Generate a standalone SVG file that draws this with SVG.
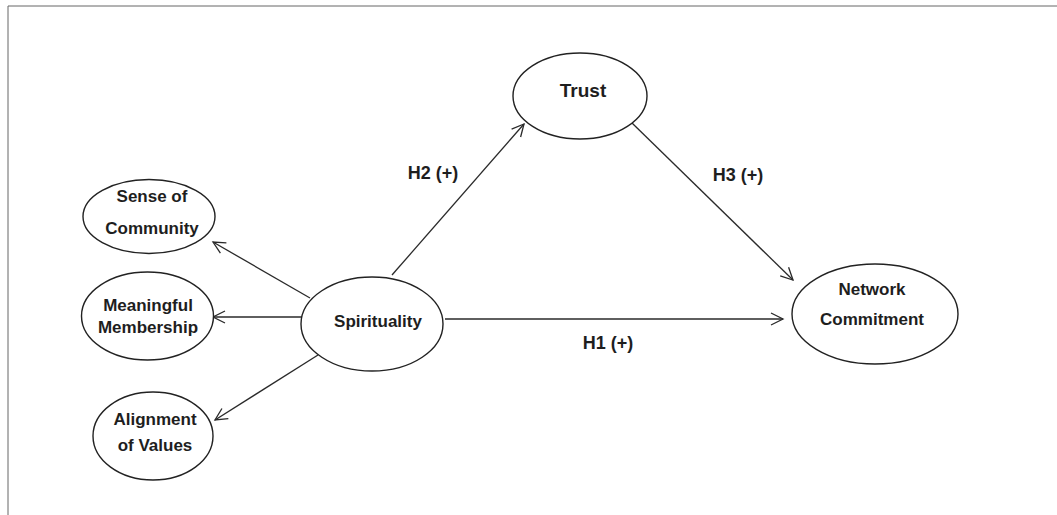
<svg xmlns="http://www.w3.org/2000/svg" width="1057" height="515" viewBox="0 0 1057 515">
<style>
.node ellipse{fill:#fff;stroke:#222;stroke-width:1.4}
text{font-family:"Liberation Sans",Arial,sans-serif;font-weight:bold;font-size:17px;fill:#1e1e1e;text-anchor:middle}
.lbl{font-size:18px}
.big{font-size:19px}
.conn line{stroke:#2a2a2a;stroke-width:1.3;marker-end:url(#arr)}
</style>
<defs>
<marker id="arr" markerUnits="userSpaceOnUse" markerWidth="16" markerHeight="16" refX="13" refY="7" orient="auto">
<path d="M1,1 L13,7 L1,13" fill="none" stroke="#2a2a2a" stroke-width="1.3"/>
</marker>
</defs>
<rect width="1057" height="515" fill="#fff"/>
<path d="M8,515 V6 H1057" fill="none" stroke="#666" stroke-width="1"/>
<g class="conn">
<line x1="392" y1="275" x2="524" y2="124"/>
<line x1="632" y1="123" x2="793" y2="280"/>
<line x1="445" y1="319" x2="783" y2="319"/>
<line x1="310" y1="298" x2="213" y2="242"/>
<line x1="302" y1="317" x2="213" y2="317"/>
<line x1="318" y1="355" x2="215" y2="420"/>
<text class="lbl" x="433" y="179">H2 (+)</text>
<text class="lbl" x="738" y="181">H3 (+)</text>
<text class="lbl" x="608" y="349">H1 (+)</text>
</g>
<g id="trust" class="node"><ellipse cx="580" cy="96" rx="67" ry="43"/><text class="big" x="583" y="97">Trust</text></g>
<g id="network" class="node"><ellipse cx="875" cy="314" rx="83" ry="50"/><text x="872" y="295">Network</text><text x="872" y="325">Commitment</text></g>
<g id="spirituality" class="node"><ellipse cx="372" cy="324" rx="71" ry="47"/><text x="378" y="327">Spirituality</text></g>
<g id="sense" class="node"><ellipse cx="149" cy="216.5" rx="66" ry="37"/><text x="152" y="202">Sense of</text><text x="152" y="234">Community</text></g>
<g id="meaningful" class="node"><ellipse cx="147.5" cy="316" rx="66" ry="44"/><text x="148" y="311">Meaningful</text><text x="148" y="333">Membership</text></g>
<g id="alignment" class="node"><ellipse cx="153" cy="436" rx="60" ry="44"/><text x="155" y="425">Alignment</text><text x="155" y="451">of Values</text></g>
</svg>
